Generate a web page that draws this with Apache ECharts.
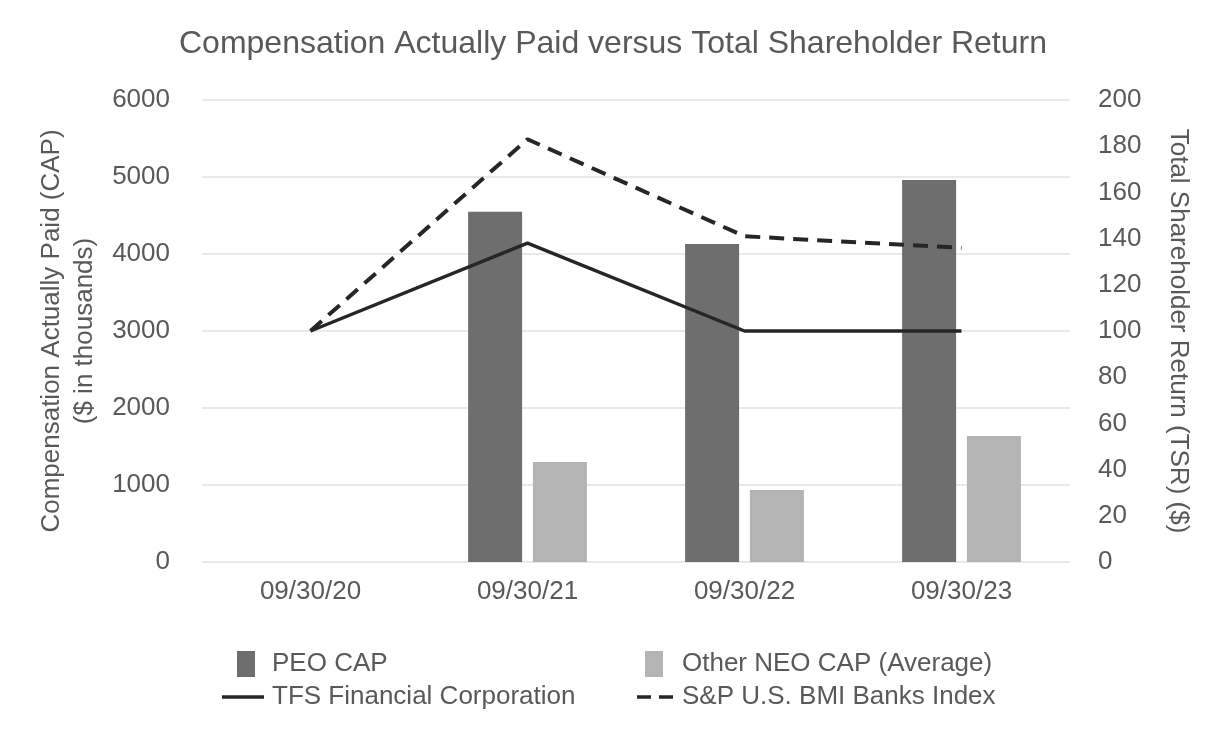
<!DOCTYPE html>
<html>
<head>
<meta charset="utf-8">
<script src="https://cdn.jsdelivr.net/npm/echarts@6/dist/echarts.min.js"></script>
<style>
html,body{margin:0;padding:0;background:#fff;}
#chart{width:1226px;height:748px;}
</style>
</head>
<body>
<div id="chart"></div>
<script>
const categories = ['09/30/20', '09/30/21', '09/30/22', '09/30/23'];
const peoCap = [null, 4549, 4130, 4961];
const otherNeoCap = [null, 1299, 935, 1636];
const tfsTsr = [100, 138, 100, 100];
const spBanksTsr = [100, 183, 141, 136];

const FONT = '"Liberation Sans", Arial, sans-serif';
const TXT = '#595959';
const FS = 26;

const chart = echarts.init(document.getElementById('chart'), null, {renderer: 'canvas'});
const option = {
  backgroundColor: '#ffffff',
  animation: false,
  textStyle: {fontFamily: FONT, color: TXT},
  title: {
    text: 'Compensation Actually Paid versus Total Shareholder Return',
    left: 'center', top: 23,
    textStyle: {fontFamily: FONT, fontSize: 32, fontWeight: 'normal', color: TXT}
  },
  grid: {left: 202, right: 156, top: 100, bottom: 186, containLabel: false},
  legend: [
    {data: ['PEO CAP'], left: 232, top: 646, icon: 'rect', itemWidth: 18, itemHeight: 26, itemGap: 0,
     textStyle: {fontFamily: FONT, fontSize: FS, color: TXT, padding: [0,0,0,12]}},
    {data: ['Other NEO CAP (Average)'], left: 640, top: 646, icon: 'rect', itemWidth: 18, itemHeight: 26, itemGap: 0,
     textStyle: {fontFamily: FONT, fontSize: FS, color: TXT, padding: [0,0,0,14]}},
    {data: ['TFS Financial Corporation'], left: 217, top: 679, icon: 'path://M0,0h42v3.5h-42z',
     itemWidth: 42, itemHeight: 3.5, itemGap: 0,
     textStyle: {fontFamily: FONT, fontSize: FS, color: TXT, padding: [0,0,0,3]}},
    {data: ['S&P U.S. BMI Banks Index'], left: 632, top: 679, icon: 'path://M0,0h14v3.5h-14z M22,0h14v3.5h-14z',
     itemWidth: 36, itemHeight: 3.5, itemGap: 0,
     textStyle: {fontFamily: FONT, fontSize: FS, color: TXT, padding: [0,0,0,4]}}
  ],
  xAxis: {
    type: 'category', data: categories,
    axisLine: {show: false}, axisTick: {show: false},
    axisLabel: {fontFamily: FONT, fontSize: FS, color: TXT, margin: 17}
  },
  yAxis: [
    {
      type: 'value', min: 0, max: 6000, interval: 1000, position: 'left',
      name: 'Compensation Actually Paid (CAP)\n($ in thousands)',
      nameLocation: 'middle', nameGap: 98,
      nameTextStyle: {fontFamily: FONT, fontSize: FS, color: TXT, lineHeight: 33},
      axisLine: {show: false}, axisTick: {show: false},
      axisLabel: {fontFamily: FONT, fontSize: FS, color: TXT, margin: 32,
                  formatter: function (v) { return String(v); }},
      splitLine: {lineStyle: {color: '#e2e2e2', width: 1.5}}
    },
    {
      type: 'value', min: 0, max: 200, interval: 20, position: 'right',
      name: 'Total Shareholder Return (TSR) ($)',
      nameLocation: 'middle', nameGap: 95, nameRotate: -90,
      nameTextStyle: {fontFamily: FONT, fontSize: FS, color: TXT},
      axisLine: {show: false}, axisTick: {show: false},
      axisLabel: {fontFamily: FONT, fontSize: FS, color: TXT, margin: 28},
      splitLine: {show: false}
    }
  ],
  series: [
    {name: 'PEO CAP', type: 'bar', yAxisIndex: 0, data: peoCap,
     barWidth: 54, barGap: '20%', itemStyle: {color: '#6e6e6e'}},
    {name: 'Other NEO CAP (Average)', type: 'bar', yAxisIndex: 0, data: otherNeoCap,
     barWidth: 54, barGap: '20%', itemStyle: {color: '#b4b4b4'}},
    {name: 'TFS Financial Corporation', type: 'line', yAxisIndex: 1, data: tfsTsr,
     symbol: 'none', lineStyle: {color: '#262626', width: 3.5}, itemStyle: {color: '#262626'}},
    {name: 'S&P U.S. BMI Banks Index', type: 'line', yAxisIndex: 1, data: spBanksTsr,
     symbol: 'none', lineStyle: {color: '#262626', width: 4, type: [15, 9]}, itemStyle: {color: '#262626'}}
  ]
};
chart.setOption(option);
</script>
</body>
</html>
